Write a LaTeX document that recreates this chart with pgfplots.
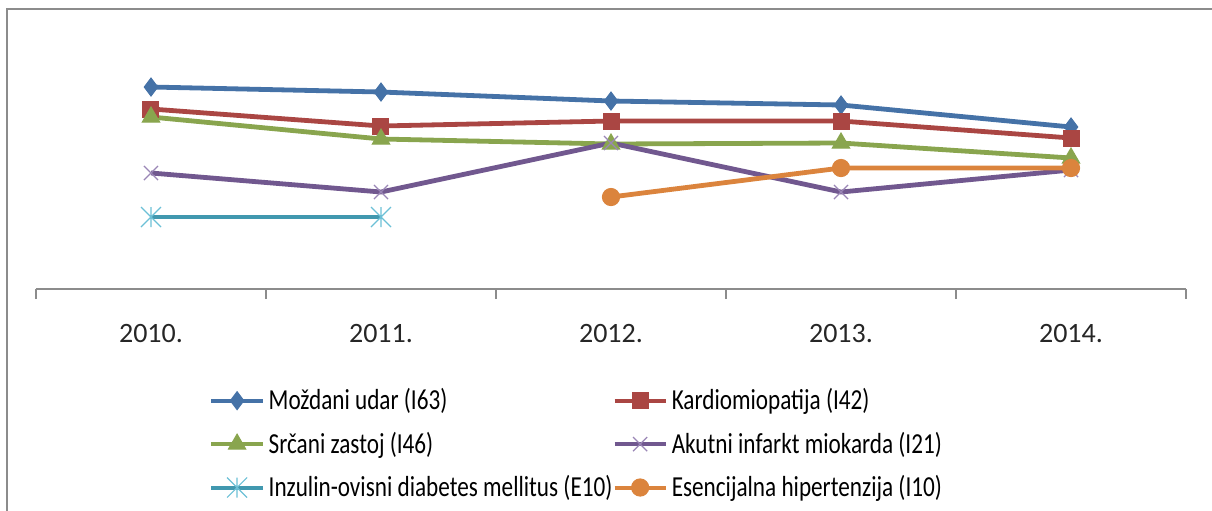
\documentclass[border=0pt]{standalone}
\usepackage{fontspec}
\setmainfont{Carlito}
\newfontfamily\legfont[FakeStretch=0.8]{Carlito}
\usepackage{pgfplots}
\pgfplotsset{compat=1.18}

\definecolor{cblue}{HTML}{4572A7}
\definecolor{cred}{HTML}{AA4643}
\definecolor{cgreen}{HTML}{89A54E}
\definecolor{cpurple}{HTML}{71588F}
\definecolor{cpurplem}{HTML}{9A86B6}
\definecolor{cteal}{HTML}{4198AF}
\definecolor{ctealm}{HTML}{6CC0D6}
\definecolor{corange}{HTML}{DB843D}
\definecolor{framegray}{HTML}{8C8C8C}

\pgfdeclareplotmark{xstar}{%
  \pgfpathmoveto{\pgfqpoint{-\pgfplotmarksize}{-\pgfplotmarksize}}%
  \pgfpathlineto{\pgfqpoint{\pgfplotmarksize}{\pgfplotmarksize}}%
  \pgfpathmoveto{\pgfqpoint{-\pgfplotmarksize}{\pgfplotmarksize}}%
  \pgfpathlineto{\pgfqpoint{\pgfplotmarksize}{-\pgfplotmarksize}}%
  \pgfpathmoveto{\pgfqpoint{0pt}{-\pgfplotmarksize}}%
  \pgfpathlineto{\pgfqpoint{0pt}{\pgfplotmarksize}}%
  \pgfusepathqstroke}

\begin{document}
\begin{tikzpicture}
\begin{axis}[
  scale only axis,
  width=575pt, height=129.5pt,
  xmin=-0.5, xmax=4.5, ymin=0, ymax=259,
  clip=false,
  axis x line*=bottom,
  axis y line=none,
  x axis line style={color=framegray, line width=0.8pt},
  xtick={0,1,2,3,4},
  xticklabels={2010.,2011.,2012.,2013.,2014.},
  major tick length=0pt,
  extra x ticks={-0.5,0.5,1.5,2.5,3.5,4.5},
  extra x tick labels={},
  extra x tick style={major tick length=5pt, tick align=outside, tick style={color=framegray, line width=0.8pt}},
  xticklabel style={font=\fontsize{14}{16}\selectfont, text=black!85, yshift=-14pt},
  legend columns=2,
  legend cell align=left,
  legend style={at={(0.1453,-0.352)}, anchor=north west, draw=none, fill=none,
    font=\legfont\fontsize{14.5}{17}\selectfont,
    row sep=5.6pt,
    /tikz/every even column/.append style={column sep=-2pt}},
  legend image code/.code={%
    \draw[mark repeat=2,mark phase=2, line width=2pt] plot coordinates {(0cm,0cm) (0.45cm,0cm) (0.9cm,0cm)};},
  every axis plot/.append style={line width=2.4pt},
]
\addplot[color=cblue, mark=diamond*, mark size=4.5pt, mark options={solid, line width=0.5pt}]
  coordinates {(0,202) (1,197) (2,188) (3,184) (4,162)};
\addlegendentry{Moždani udar (I63)}
\addplot[color=cred, mark=square*, mark size=4pt, mark options={solid, line width=0.5pt}]
  coordinates {(0,180) (1,163) (2,168) (3,168) (4,151)};
\addlegendentry{Kardiomiopatija (I42)}
\addplot[color=cgreen, mark=triangle*, mark size=5pt, mark options={solid, line width=0.5pt}]
  coordinates {(0,172) (1,150) (2,145) (3,146) (4,131)};
\addlegendentry{Srčani zastoj (I46)}
\addplot[color=cpurple, mark=x, mark size=5pt, mark options={solid, line width=0.6pt, color=cpurplem}]
  coordinates {(0,116) (1,97) (2,146) (3,97) (4,119)};
\addlegendentry{Akutni infarkt miokarda (I21)}
\addplot[color=cteal, mark=xstar, mark size=5pt, mark options={solid, line width=0.6pt, color=ctealm}]
  coordinates {(0,72) (1,72)};
\addlegendentry{Inzulin-ovisni diabetes mellitus (E10)}
\addplot[color=corange, mark=*, mark size=4.3pt, mark options={solid, line width=0.5pt}]
  coordinates {(2,92) (3,121) (4,121)};
\addlegendentry{Esencijalna hipertenzija (I10)}

\draw[framegray, line width=1pt] (axis cs:-0.6239,-230) -- (axis cs:-0.6239,280) -- (axis cs:4.70,280);
\coordinate (bbA) at (axis cs:-0.6565,289);
\coordinate (bbB) at (axis cs:4.6130,-221);
\end{axis}
\pgfresetboundingbox
\path[use as bounding box] (bbA) rectangle (bbB);
\end{tikzpicture}
\end{document}
